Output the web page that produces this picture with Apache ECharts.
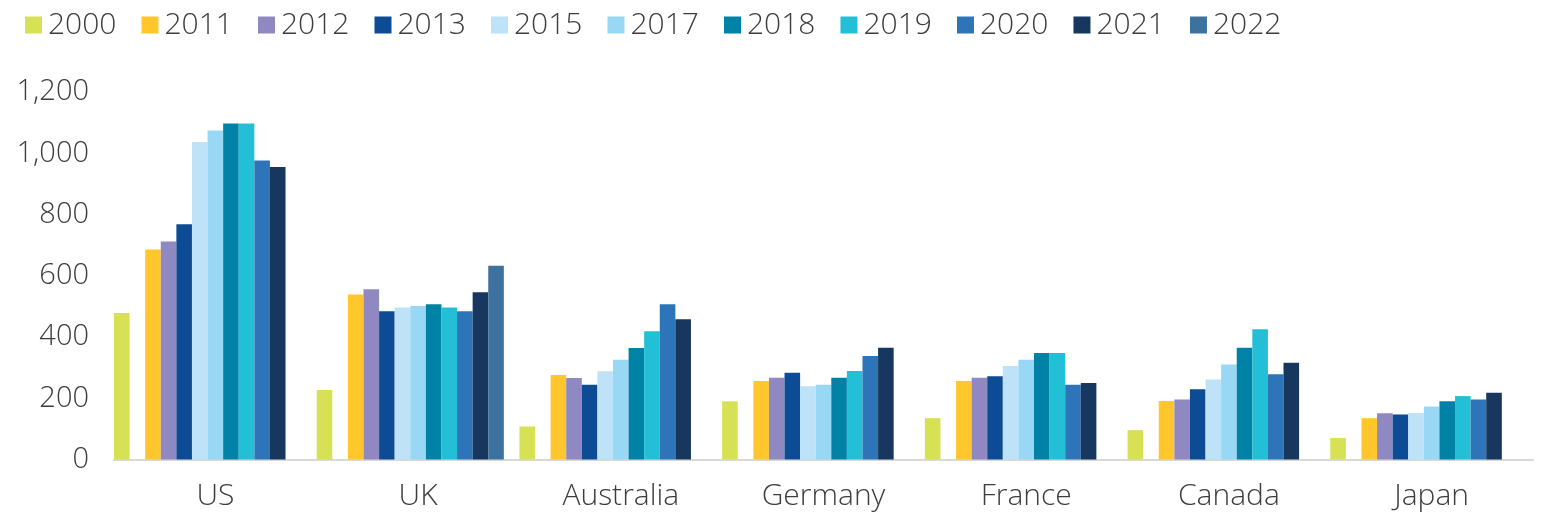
<!DOCTYPE html>
<html>
<head>
<meta charset="utf-8">
<script src="https://cdn.jsdelivr.net/npm/echarts@6/dist/echarts.min.js"></script>
<style>
html,body{margin:0;padding:0;background:#fff;}
#c{width:1546px;height:529px;}
</style>
</head>
<body>
<div id="c"></div>
<script>
var categories = ['US', 'UK', 'Australia', 'Germany', 'France', 'Canada', 'Japan'];
var yTicks = [0, 200, 400, 600, 800, 1000, 1200];

var s2000 = [478, 227, 108, 190, 135, 96, 70];
var s2011 = [686, 539, 276, 256, 256, 191, 135];
var s2012 = [712, 556, 266, 267, 267, 196, 151];
var s2013 = [768, 484, 244, 283, 272, 229, 147];
var s2015 = [1037, 496, 288, 239, 305, 261, 152];
var s2017 = [1074, 501, 326, 244, 326, 310, 173];
var s2018 = [1097, 507, 364, 267, 348, 365, 190];
var s2019 = [1097, 496, 419, 289, 348, 425, 207];
var s2020 = [976, 484, 507, 338, 244, 278, 196];
var s2021 = [955, 546, 458, 365, 250, 316, 218];
var s2022 = [null, 633, null, null, null, null, null];
var blank = [null, null, null, null, null, null, null];

var seriesNames = ['2000', 'gap1', '2011', '2012', '2013', '2015', '2017', '2018', '2019', '2020', '2021', '2022', 'gap2'];
var seriesData = [s2000, blank, s2011, s2012, s2013, s2015, s2017, s2018, s2019, s2020, s2021, s2022, blank];
var seriesColors = ['#d6e254', '#ffffff', '#ffc72c', '#9088c0', '#0d4c94', '#bee3f8', '#98d8f5', '#0082a6', '#22bfd6', '#2e74b9', '#17375f', '#3d719e', '#ffffff'];
var legendNames = ['2000', '2011', '2012', '2013', '2015', '2017', '2018', '2019', '2020', '2021', '2022'];

var FONT = '"Open Sans", "Noto Sans", sans-serif';
var TXT = '#3d3d3d';

var series = seriesNames.map(function (n, i) {
  return {
    name: n,
    type: 'bar',
    data: seriesData[i],
    barGap: '0%',
    barCategoryGap: '0%',
    itemStyle: { color: seriesColors[i] },
    animation: false
  };
});

var chart = echarts.init(document.getElementById('c'));
chart.setOption({
  animation: false,
  legend: {
    data: legendNames,
    left: 20,
    top: 5,
    icon: 'rect',
    itemWidth: 17,
    itemHeight: 17,
    itemGap: 25,
    textStyle: { fontFamily: FONT, fontSize: 30, fontWeight: 300, color: TXT, padding: [0, 0, 0, 1] },
    selectedMode: false
  },
  grid: { left: 114, right: 13, top: 92, bottom: 69.5, containLabel: false },
  xAxis: {
    type: 'category',
    data: categories,
    axisLine: { lineStyle: { color: '#d9d9d9', width: 2 } },
    axisTick: { show: false },
    axisLabel: { fontFamily: FONT, fontSize: 30, fontWeight: 300, color: TXT, margin: 22 }
  },
  yAxis: {
    type: 'value',
    min: yTicks[0],
    max: yTicks[yTicks.length - 1],
    interval: 200,
    axisLine: { show: false },
    axisTick: { show: false },
    splitLine: { show: false },
    axisLabel: {
      fontFamily: FONT, fontSize: 29, fontWeight: 300, color: TXT, margin: 25,
      formatter: function (v) { return v.toString().replace(/\B(?=(\d{3})+(?!\d))/g, ','); }
    }
  },
  series: series
});
</script>
</body>
</html>
